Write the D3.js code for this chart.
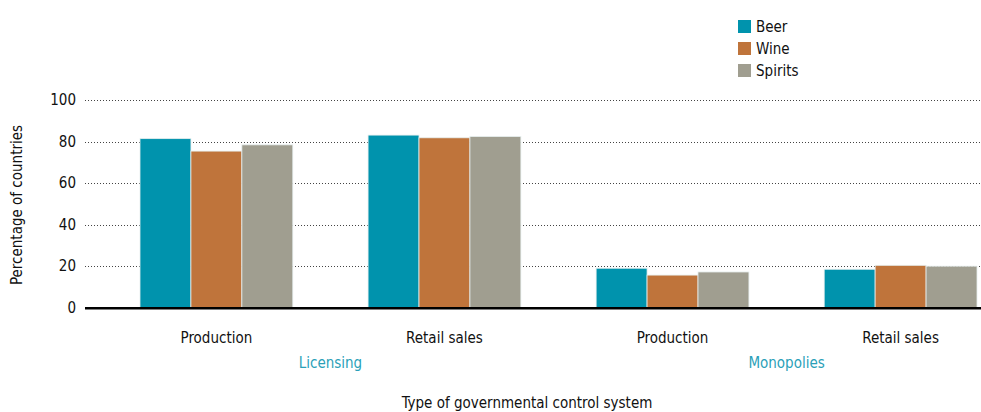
<!DOCTYPE html>
<html><head><meta charset="utf-8">
<script src="https://cdn.jsdelivr.net/npm/d3@7"></script>
<style>
body{margin:0;background:#fff;}
svg text{font-family:"Liberation Sans Narrow","DejaVu Sans Condensed","Roboto Condensed",sans-serif;}
</style></head>
<body>
<svg id="chart" width="981" height="412"></svg>
<script>
const groups = ["Licensing", "Monopolies"];
const categories = ["Production", "Retail sales", "Production", "Retail sales"];
const categoryGroup = ["Licensing", "Licensing", "Monopolies", "Monopolies"];
const seriesNames = ["Beer", "Wine", "Spirits"];
const beer = [81.4, 83.1, 19.0, 18.5];
const wine = [75.4, 81.8, 15.7, 20.4];
const spirits = [78.4, 82.4, 17.2, 20.0];
const yTicks = [0, 20, 40, 60, 80, 100];
const colors = ["#0093ad", "#bf743b", "#a09e90"];

const series = [beer, wine, spirits];
const svg = d3.select("#chart");
const x0 = d3.scaleBand().domain(d3.range(categories.length)).range([140, 977]).paddingInner(0.33).paddingOuter(0);
const x1 = d3.scaleBand().domain(seriesNames).range([0, x0.bandwidth()]);
const y = d3.scaleLinear().domain([0, 100]).range([307.7, 100]);

// gridlines
const grid = svg.append("g").attr("class", "grid");
grid.selectAll("line").data(yTicks.filter(d => d > 0)).join("line")
  .attr("x1", 85).attr("x2", 981)
  .attr("y1", d => Math.round(y(d)) + 0.5).attr("y2", d => Math.round(y(d)) + 0.5)
  .attr("stroke", "#444").attr("stroke-width", 1).attr("stroke-dasharray", "1,2");

// y axis labels
const yAxis = d3.axisLeft(y).tickValues(yTicks).tickSize(0).tickPadding(0);
const ya = svg.append("g").attr("transform", "translate(76,0)").call(yAxis);
ya.select(".domain").remove();
ya.selectAll("text").attr("font-size", 15).attr("fill", "#111")
  .style("font-family", '"Liberation Sans Narrow","DejaVu Sans Condensed",sans-serif');

// bars
const g = svg.append("g");
categories.forEach((c, i) => {
  const cg = g.append("g").attr("transform", `translate(${x0(i)},0)`);
  cg.selectAll("rect").data(seriesNames.map((s, k) => ({s, v: series[k][i], k}))).join("rect")
    .attr("x", d => x1(d.s)).attr("width", x1.bandwidth())
    .attr("y", d => y(d.v)).attr("height", d => y(0) - y(d.v))
    .attr("fill", d => colors[d.k]).attr("stroke", "#e6eeee").attr("stroke-width", 0.8);
});

// zero line
svg.append("line").attr("x1", 85).attr("x2", 981).attr("y1", y(0) + 0.5).attr("y2", y(0) + 0.5)
  .attr("stroke", "#000").attr("stroke-width", 2.5);

// category labels
svg.append("g").selectAll("text").data(categories).join("text")
  .attr("x", (d, i) => x0(i) + x0.bandwidth() / 2).attr("y", 343)
  .attr("text-anchor", "middle").attr("font-size", 15).attr("fill", "#111").text(d => d);

// group labels
svg.append("g").selectAll("text").data(groups).join("text")
  .attr("x", gname => {
    const idx = categoryGroup.map((g, i) => g === gname ? i : -1).filter(i => i >= 0);
    return d3.mean(idx, i => x0(i) + x0.bandwidth() / 2);
  })
  .attr("y", 368).attr("text-anchor", "middle").attr("font-size", 15).attr("fill", "#2a9fb8").text(d => d);

// axis titles
svg.append("text").attr("x", 527).attr("y", 408).attr("text-anchor", "middle")
  .attr("font-size", 15).attr("fill", "#111").text("Type of governmental control system");
svg.append("text").attr("transform", "translate(22,205) rotate(-90)").attr("text-anchor", "middle")
  .attr("font-size", 15).attr("fill", "#111").text("Percentage of countries");

// legend
const lg = svg.append("g").attr("transform", "translate(738,20)");
seriesNames.forEach((s, k) => {
  const row = lg.append("g").attr("transform", `translate(0,${k * 22})`);
  row.append("rect").attr("width", 13).attr("height", 13).attr("fill", colors[k]);
  row.append("text").attr("x", 18).attr("y", 12).attr("font-size", 15).attr("fill", "#111").text(s);
});
</script>
</body></html>
